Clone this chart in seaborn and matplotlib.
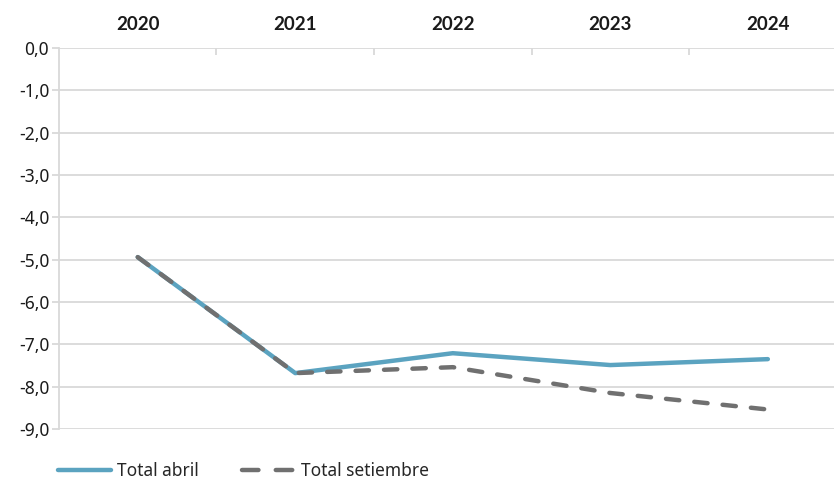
import matplotlib
matplotlib.use("Agg")
import matplotlib.pyplot as plt
import seaborn as sns
import pandas as pd
from matplotlib.ticker import FixedLocator, FuncFormatter
from matplotlib.lines import Line2D

years = ["2020", "2021", "2022", "2023", "2024"]
total_abril = [-4.94, -7.68, -7.21, -7.49, -7.35]
total_setiembre = [-4.94, -7.68, -7.54, -8.15, -8.54]
series_names = ["Total abril", "Total setiembre"]

sns.set_theme(style="white")
plt.rcParams["font.family"] = ["Noto Sans", "DejaVu Sans"]

df = pd.DataFrame({
    "pos": list(range(len(years))) * 2,
    "valor": total_abril + total_setiembre,
    "serie": [series_names[0]] * len(years) + [series_names[1]] * len(years),
})

blue = "#5ba3c0"
grey = "#707070"
grid_col = "#d9d9d9"
dash_pat = (3.0, 3.4)

fig = plt.figure(figsize=(8.34, 4.82), dpi=100)
ax = fig.add_axes([0.0707, 0.110, 0.9293, 0.7904])

for v in range(0, -10, -1):
    ax.axhline(v, color=grid_col, lw=1.3, zorder=0)

sns.lineplot(data=df, x="pos", y="valor", hue="serie", style="serie",
             palette={series_names[0]: blue, series_names[1]: grey},
             dashes={series_names[0]: "", series_names[1]: dash_pat},
             linewidth=3.2, ax=ax, legend=False, zorder=3)
for line in ax.get_lines():
    line.set_dash_capstyle("round")
    line.set_solid_capstyle("round")

ax.set_xlim(-0.5, 4.42)
ax.set_ylim(-9, 0)
ax.set_xlabel("")
ax.set_ylabel("")

# Category labels along the top
ax.xaxis.tick_top()
ax.set_xticks(range(len(years)))
ax.set_xticklabels(years, fontsize=13.5, fontweight="bold", color="#1a1a1a",
                   family=["Lato", "DejaVu Sans"])
ax.tick_params(axis="x", which="major", length=0, pad=11)
ax.xaxis.set_minor_locator(FixedLocator([0.5, 1.5, 2.5, 3.5]))
ax.tick_params(axis="x", which="minor", direction="in", length=5, width=1.3,
               color=grid_col, top=True, bottom=False)

ax.set_yticks(range(0, -10, -1))
ax.yaxis.set_major_formatter(FuncFormatter(lambda v, _: f"{v:.1f}".replace(".", ",")))
ax.tick_params(axis="y", length=5, width=1.3, color=grid_col, labelsize=12.5,
               labelcolor="#1a1a1a", pad=2, left=True)

for s in ["right", "bottom", "top"]:
    ax.spines[s].set_visible(False)
ax.spines["left"].set_color(grid_col)
ax.spines["left"].set_linewidth(1.3)

# Legend below the plot
handles = [
    Line2D([], [], color=blue, lw=3.2, solid_capstyle="round"),
    Line2D([], [], color=grey, lw=3.2, dashes=(3.7, 3.9), dash_capstyle="round"),
]
fig.legend(handles, series_names, loc="lower left", bbox_to_anchor=(0.051, -0.028),
           ncol=2, frameon=False, fontsize=12.5, handlelength=3.05,
           handletextpad=0.35, columnspacing=2.5)

fig.savefig("out.png", dpi=100)
